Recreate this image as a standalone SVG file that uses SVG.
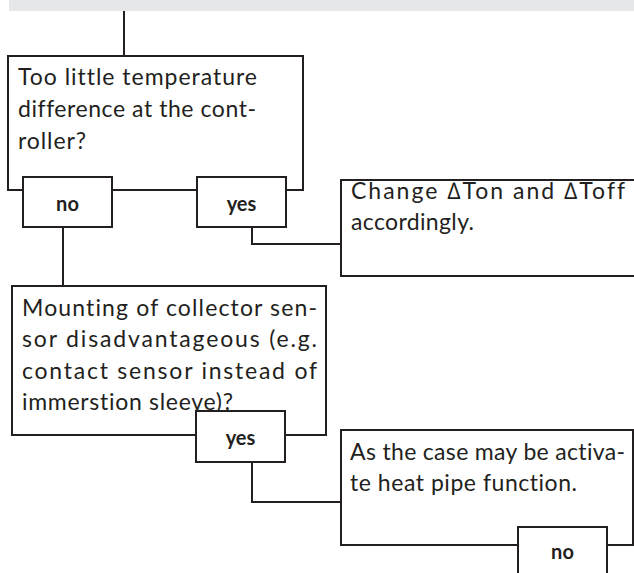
<svg xmlns="http://www.w3.org/2000/svg" width="634" height="573" viewBox="0 0 634 573">
<style>
.box{fill:#fff;stroke:#231f20;stroke-width:2}
.lbl{fill:#fff;stroke:#231f20;stroke-width:2}
.t{font-family:Lato,"Open Sans","DejaVu Sans",sans-serif;font-size:23px;fill:#231f20;font-variant-ligatures:none}
.b{font-family:Lato,"Open Sans","DejaVu Sans",sans-serif;font-size:20px;font-weight:bold;fill:#231f20;text-anchor:middle}
.c{fill:none;stroke:#231f20;stroke-width:2}
</style>
<rect x="9" y="0" width="625" height="11" fill="#e6e7e8"/>
<g id="connectors">
<path class="c" d="M124 11V56"/>
<path class="c" d="M63 227V286"/>
<path class="c" d="M252 227V244H341"/>
<path class="c" d="M252 462V502H341"/>
</g>
<g id="q1">
<rect class="box" x="8" y="56" width="295" height="134"/>
<text class="t" x="18" y="85" textLength="239" lengthAdjust="spacing">Too little temperature</text>
<text class="t" x="18" y="117" textLength="238" lengthAdjust="spacing">difference at the cont-</text>
<text class="t" x="18" y="149" textLength="68" lengthAdjust="spacing">roller?</text>
</g>
<g id="q1-no">
<rect class="lbl" x="23" y="177" width="89" height="50"/>
<text class="b" x="67.5" y="211">no</text>
</g>
<g id="q1-yes">
<rect class="lbl" x="197" y="177" width="89" height="50"/>
<text class="b" x="241.5" y="211">yes</text>
</g>
<g id="a1">
<rect class="box" x="341" y="180" width="300" height="96"/>
<text class="t" x="351" y="199" textLength="274" lengthAdjust="spacing">Change ∆Ton and ∆Toff</text>
<text class="t" x="351" y="230" textLength="123" lengthAdjust="spacing">accordingly.</text>
</g>
<g id="q2">
<rect class="box" x="12" y="286" width="314" height="149"/>
<text class="t" x="22" y="316" textLength="295" lengthAdjust="spacing">Mounting of collector sen-</text>
<text class="t" x="22" y="347" textLength="295" lengthAdjust="spacing">sor disadvantageous (e.g.</text>
<text class="t" x="22" y="379" textLength="295" lengthAdjust="spacing">contact sensor instead of</text>
<text class="t" x="22" y="410" textLength="211" lengthAdjust="spacing">immerstion sleeve)?</text>
</g>
<g id="q2-yes">
<rect class="lbl" x="196" y="411" width="89" height="51"/>
<text class="b" x="240.5" y="445">yes</text>
</g>
<g id="a2">
<rect class="box" x="341" y="430" width="292" height="115"/>
<text class="t" x="350" y="460" textLength="275" lengthAdjust="spacing">As the case may be activa-</text>
<text class="t" x="350" y="491" textLength="227" lengthAdjust="spacing">te heat pipe function.</text>
</g>
<g id="a2-no">
<rect class="lbl" x="518" y="527" width="89" height="60"/>
<text class="b" x="562.5" y="559">no</text>
</g>
</svg>
